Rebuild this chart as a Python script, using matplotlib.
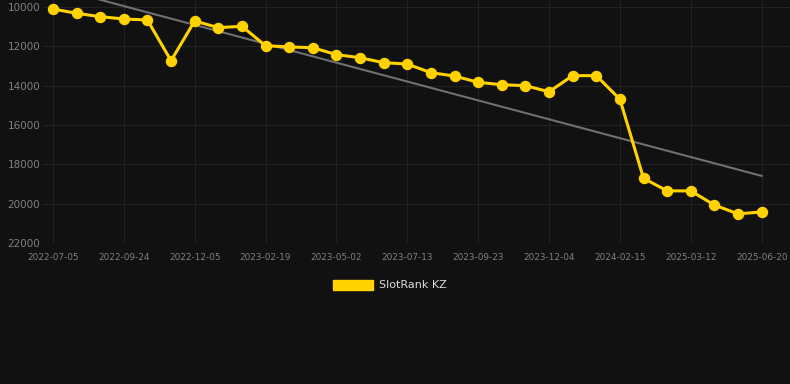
import numpy as np
import matplotlib
matplotlib.use("Agg")
import matplotlib.pyplot as plt
from matplotlib.patches import Patch

tick_labels = ["2022-07-05", "2022-09-24", "2022-12-05", "2023-02-19", "2023-05-02",
               "2023-07-13", "2023-09-23", "2023-12-04", "2024-02-15", "2025-03-12",
               "2025-06-20"]
ranks = [10100, 10320, 10490, 10610, 10660, 12730, 10710, 11050, 10980, 11970,
         12030, 12070, 12420, 12580, 12830, 12900, 13340, 13510, 13830, 13950,
         14000, 14310, 13490, 13490, 14690, 18710, 19350, 19350, 20070, 20520,
         20420]
series_name = "SlotRank KZ"
y_ticks = [10000, 12000, 14000, 16000, 18000, 20000, 22000]

bg = "#111111"
gold = "#FFD200"

fig = plt.figure(figsize=(7.9, 3.84), dpi=100, facecolor=bg)
ax = fig.add_axes([43/790, (384-243)/384, 1-43/790, 243/384])
ax.set_facecolor(bg)

x = np.arange(len(ranks))
coef = np.polyfit(x, ranks, 1)
ax.plot(x, np.polyval(coef, x), color="#707070", lw=1.5, zorder=2)
ax.plot(x, ranks, color=gold, lw=2.2, marker="o", markersize=7.2, zorder=3)

ax.set_xlim(-0.42, 31.2)
ax.set_ylim(22000, 9644)
ax.set_yticks(y_ticks)
ax.set_yticklabels([str(v) for v in y_ticks])
ax.set_xticks(x[::3])
ax.set_xticklabels(tick_labels)
ax.grid(True, color="#222222", lw=0.8)
for s in ax.spines.values():
    s.set_visible(False)
ax.axhline(22000, color="#2a2a2a", lw=0.8)
ax.tick_params(axis="y", length=0, labelsize=7.5, labelcolor="#808080", pad=2)
ax.tick_params(axis="x", length=0, labelsize=6.4, labelcolor="#808080", pad=7)

fig.legend(handles=[Patch(facecolor=gold, edgecolor=gold)], labels=[series_name],
           loc="center", bbox_to_anchor=(390/790, 1-285/384), frameon=False,
           fontsize=8, labelcolor="#dddddd", handlelength=3.6, handleheight=1.0,
           handletextpad=0.5)

fig.savefig("out.png", dpi=100, facecolor=bg)
